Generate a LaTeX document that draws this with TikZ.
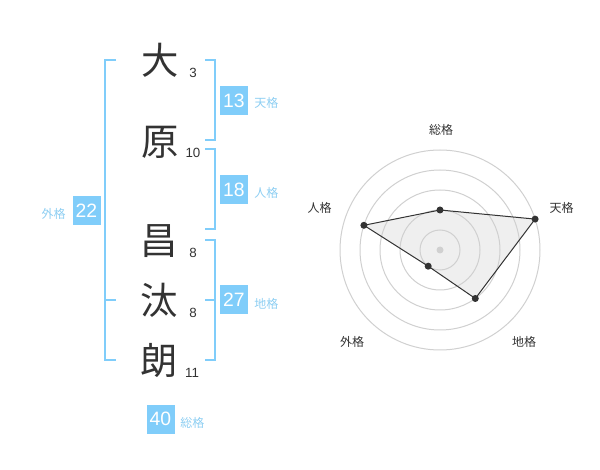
\documentclass[tikz,border=0pt]{standalone}
\usepackage{fontspec}
\setmainfont{Liberation Sans}
\newfontfamily\cjk{Noto Sans CJK JP}
\definecolor{bl}{HTML}{80CDFA}
\definecolor{lbl}{HTML}{8DCEF2}
\definecolor{ink}{HTML}{333333}
\definecolor{ring}{HTML}{D0D0D0}
\definecolor{area}{HTML}{EFEFEF}
\begin{document}
\begin{tikzpicture}[x=0.75pt,y=-0.75pt,
  kanji/.style={font=\cjk\fontsize{28}{28}\selectfont, text=ink, inner sep=0},
  strk/.style={font=\fontsize{10}{10}\selectfont, text=ink, inner sep=0},
  numbox/.style={fill=bl, text=white, minimum width=21pt, minimum height=21.75pt, inner sep=0, font=\fontsize{14.5}{15}\selectfont},
  lab/.style={text=lbl, font=\cjk\fontsize{9}{9}\selectfont, inner sep=0},
  rlab/.style={text=ink, font=\cjk\fontsize{9}{9}\selectfont, inner sep=0},
  brk/.style={draw=bl, line width=1.5pt},
  ringline/.style={draw=ring, line width=0.75pt},
  dot/.style={circle, fill=ink, inner sep=0, minimum size=5.25pt},
]
\useasboundingbox (0,0) rectangle (600,470);
% characters
\node[kanji] (k1) at (160,60) {大};
\node[kanji] (k2) at (160,142) {原};
\node[kanji] (k3) at (159,241) {昌};
\node[kanji] (k4) at (159,300) {汰};
\node[kanji] (k5) at (159,360) {朗};
\node[strk] (s1) at (193,73) {3};
\node[strk] (s2) at (193,153) {10};
\node[strk] (s3) at (193,253) {8};
\node[strk] (s4) at (193,313) {8};
\node[strk] (s5) at (192,373) {11};
% brackets
\draw[brk] (116,60) -- (105,60) -- (105,360) -- (116,360);
\draw[brk] (105,300) -- (116,300);
\draw[brk] (205,60) -- (215,60) -- (215,140) -- (205,140);
\draw[brk] (205,149) -- (215,149) -- (215,229) -- (205,229);
\draw[brk] (205,240) -- (215,240) -- (215,360) -- (205,360);
\draw[brk] (205,300) -- (215,300);
% boxes
\node[numbox] (b13) at (234,100.5) {13};
\node[lab, anchor=west] (l13) at (254,103) {天格};
\node[numbox] (b18) at (234,190) {18};
\node[lab, anchor=west] (l18) at (254,193) {人格};
\node[numbox] (b22) at (86.5,210.5) {22};
\node[lab, anchor=east] (l22) at (66,214) {外格};
\node[numbox] (b27) at (234,300) {27};
\node[lab, anchor=west] (l27) at (254,304) {地格};
\node[numbox] (b40) at (160.5,419) {40};
\node[lab, anchor=west] (l40) at (180,423) {総格};
% radar
\coordinate (c) at (440,250);
\coordinate (p1) at (440,210);
\coordinate (p2) at (535.1,219.1);
\coordinate (p3) at (475.3,298.5);
\coordinate (p4) at (428.2,266.2);
\coordinate (p5) at (363.9,225.3);
\fill[area] (p1) -- (p2) -- (p3) -- (p4) -- (p5) -- cycle;
\foreach \r in {20,40,60,80,100} \draw[ringline] (c) circle[radius=\r*0.75pt];
\draw[ink, line width=0.75pt] (p1) -- (p2) -- (p3) -- (p4) -- (p5) -- cycle;
\node[circle, fill=ring, inner sep=0, minimum size=5.25pt] (cd) at (c) {};
\foreach \p in {p1,p2,p3,p4,p5} \node[dot] at (\p) {};
\node[rlab] (r1) at (441,130) {総格};
\node[rlab] (r2) at (561.5,208) {天格};
\node[rlab] (r3) at (524,342) {地格};
\node[rlab] (r4) at (352,342) {外格};
\node[rlab] (r5) at (319.5,208) {人格};
\end{tikzpicture}
\end{document}
